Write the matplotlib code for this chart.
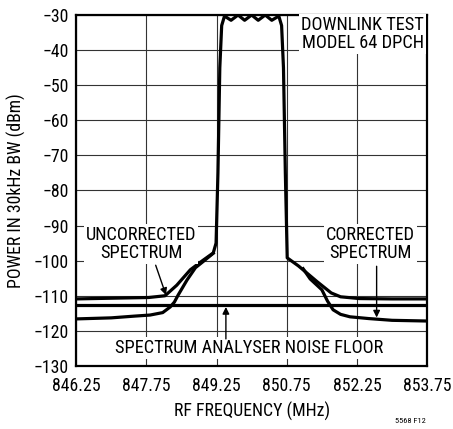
import numpy as np
import matplotlib
matplotlib.use('Agg')
import matplotlib.pyplot as plt
from matplotlib import font_manager

# pick a narrow sans if one is around
fam = ['DejaVu Sans']
names = set(f.name for f in font_manager.fontManager.ttflist)
for cand in ['Liberation Sans Narrow', 'Roboto Condensed', 'Liberation Sans']:
    if cand in names:
        fam = [cand, 'DejaVu Sans']
        break
plt.rcParams['font.family'] = fam

# spectrum traces (MHz, dBm)
uncorr_f = [846.25, 847.0, 847.8, 848.15, 848.4, 848.69, 848.95, 849.18, 849.24, 849.28, 849.32, 849.36,
            849.42, 849.56, 849.71, 849.85, 850.0, 850.14, 850.29, 850.43, 850.58,
            850.64, 850.68, 850.72, 850.76, 851.0, 851.4, 851.7, 851.9, 852.3, 853.0, 853.75]
uncorr_db = [-110.9, -110.7, -110.5, -110.0, -107.0, -102.6, -100.0, -97.8, -95.0, -75.0, -45.0, -33.0,
             -30.3, -31.5, -30.0, -31.5, -30.0, -31.5, -30.0, -31.5, -30.3,
             -33.0, -45.0, -75.0, -99.2, -101.5, -106.0, -109.2, -110.3, -110.8, -110.9, -110.9]

corr_f = [846.25, 847.0, 847.5, 847.83, 848.1, 848.26, 848.35, 848.43, 848.62, 848.8]
corr_db = [-116.6, -116.3, -115.8, -115.5, -114.8, -113.2, -111.8, -109.8, -105.5, -102.0]
corr_rf = [851.25, 851.5, 851.62, 851.74, 851.9, 852.1, 852.5, 853.0, 853.75]
corr_rdb = [-105.2, -108.3, -111.5, -114.0, -115.3, -116.0, -116.5, -117.0, -117.2]

noise_floor = -112.6

xticks = [846.25, 847.75, 849.25, 850.75, 852.25, 853.75]
yticks = [-130, -120, -110, -100, -90, -80, -70, -60, -50, -40, -30]

fig = plt.figure(figsize=(4.53, 4.29), dpi=100)
ax = fig.add_axes([0.168, 0.147, 0.775, 0.818])

lw = 2.3
ax.plot(uncorr_f, uncorr_db, color='black', lw=lw, solid_joinstyle='round')
ax.plot(corr_f + [848.95, 849.18], corr_db + [-100.4, -97.9], color='black', lw=lw)
ax.plot([851.1] + corr_rf, [-102.3] + corr_rdb, color='black', lw=lw)
ax.axhline(noise_floor, color='black', lw=lw)

ax.set_xlim(846.25, 853.75)
ax.set_ylim(-130, -30)
ax.set_xticks(xticks)
ax.set_xticklabels(['%.2f' % v for v in xticks])
ax.set_yticks(yticks)
ax.set_yticklabels([('\u2212%d' % -v) for v in yticks])
ax.grid(True, color='#333333', lw=0.8)
ax.tick_params(length=0, labelsize=12.8)
ax.tick_params(axis='x', pad=8)
ax.tick_params(axis='y', pad=5)
for s in ax.spines.values():
    s.set_linewidth(1.6)

ax.set_xlabel('RF FREQUENCY (MHz)', fontsize=12.8, labelpad=5)
ax.set_ylabel('POWER IN 30kHz BW (dBm)', fontsize=12.8, labelpad=6)

fs = 13.2
box = dict(facecolor='white', edgecolor='none', pad=1.5)
ax.text(853.68, -35.3, 'DOWNLINK TEST\nMODEL 64 DPCH', ha='right', va='center',
        fontsize=fs, linespacing=1.0, bbox=box)
ax.text(847.64, -95.3, 'UNCORRECTED\nSPECTRUM', ha='center', va='center',
        fontsize=fs, linespacing=1.0, bbox=box)
ax.text(852.53, -95.3, 'CORRECTED\nSPECTRUM', ha='center', va='center',
        fontsize=fs, linespacing=1.0, bbox=box)
ax.text(849.95, -124.8, 'SPECTRUM ANALYSER NOISE FLOOR', ha='center', va='center',
        fontsize=fs, bbox=box)

arr = dict(arrowstyle='-|>', color='black', lw=1.0, mutation_scale=10, shrinkA=0, shrinkB=0)
ax.annotate('', xy=(848.17, -109.8), xytext=(847.95, -101.3), arrowprops=arr)
ax.annotate('', xy=(852.67, -116.2), xytext=(852.67, -101.6), arrowprops=arr)
ax.annotate('', xy=(849.45, -113.2), xytext=(849.45, -122.3), arrowprops=arr)

fig.text(0.94, 0.012, '5568 F12', ha='right', va='bottom', fontsize=6)

fig.savefig('out.png', dpi=100)
